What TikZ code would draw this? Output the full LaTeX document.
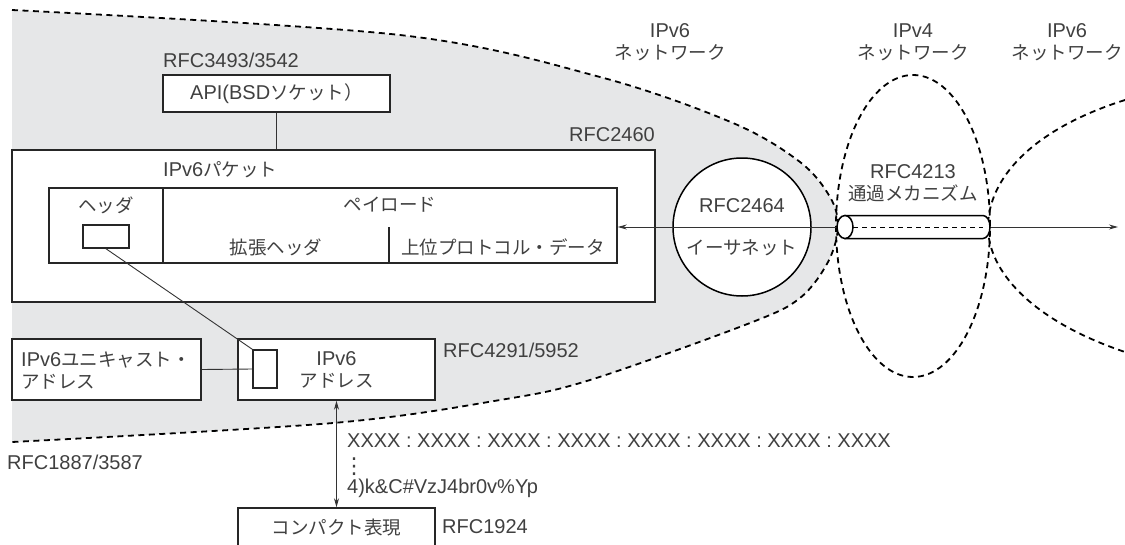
\documentclass[tikz,border=0pt]{standalone}
\usepackage{fontspec}
\setmainfont{Liberation Sans}
\newfontfamily\jpfont{Noto Sans CJK JP}
\newfontfamily\dejavu{DejaVu Sans}
\newcommand{\jtext}[1]{{\jpfont\fontsize{18.5}{22}\selectfont #1}}
\usetikzlibrary{arrows.meta}
\definecolor{graybg}{HTML}{E6E7E8}
\definecolor{txt}{HTML}{404040}
\tikzset{
  box/.style={draw=black!85, line width=1.5pt, fill=white, inner sep=0pt},
  lbl/.style={text=txt, font=\fontsize{20}{22}\selectfont, inner sep=0pt},
  netline/.style={line width=1.8pt, dash pattern=on 6pt off 4.5pt},
  conn/.style={draw=black!80, line width=0.9pt},
  tip/.style={-{Stealth[length=9pt,width=5pt]}},
}
\begin{document}
\begin{tikzpicture}[x=1pt,y=-1pt]
\useasboundingbox (0,0) rectangle (1125,544);
% gray IPv6 network region
\fill[graybg] plot[smooth,tension=0.55] coordinates {(12,10) (400,35) (600,77) (733,123) (800,162) (830,197) (838,227) (828,262) (800,298) (750,323) (590,380) (500,400) (333,423) (12,442)} -- cycle;
\draw[netline] plot[smooth,tension=0.55] coordinates {(12,10) (400,35) (600,77) (733,123) (800,162) (830,197) (838,227) (828,262) (800,298) (750,323) (590,380) (500,400) (333,423) (12,442)};
% IPv4 network
\draw[netline] (913,226) ellipse [x radius=77pt, y radius=151pt];
% right IPv6 network
\draw[netline] (1125,100) .. controls (1030,130) and (988,180) .. (988,227) .. controls (988,270) and (1030,320) .. (1125,352);
% network labels
\node[lbl, align=center] (n6a) at (670,42) {IPv6\\\jtext{ネットワーク}};
\node[lbl, align=center] (n4) at (913,42) {IPv4\\\jtext{ネットワーク}};
\node[lbl, align=center] (n6b) at (1067,42) {IPv6\\\jtext{ネットワーク}};
% API
\node[lbl, anchor=west] (rfcapi) at (163,60) {RFC3493/3542};
\node[box, minimum width=227, minimum height=37, lbl, text=txt] (api) at (276.5,93.5) {API(BSD\jtext{ソケット）}};
% packet
\node[box, minimum width=643, minimum height=152] (packet) at (333.5,226) {};
\draw[conn] (api.south) -- (packet.north -| api.south);
\node[lbl, anchor=east] (rfc2460) at (655,135) {RFC2460};
\node[lbl, anchor=west] (pkttitle) at (163,170) {IPv6\jtext{パケット}};
\node[box, minimum width=568, minimum height=75] (inner) at (333,225.5) {};
\coordinate (d1t) at (163,188);
\coordinate (d1b) at (163,263);
\draw[box] (d1t) -- (d1b);
\coordinate (d2t) at (389,227);
\coordinate (d2b) at (389,263);
\draw[box] (d2t) -- (d2b);
\node[lbl] (hdr) at (106,205) {\jtext{ヘッダ}};
\node[box, minimum width=46, minimum height=23] (hrect) at (106,236.5) {};
\node[lbl] (payload) at (390,205) {\jtext{ペイロード}};
\node[lbl] (ext) at (276,247) {\jtext{拡張ヘッダ}};
\node[lbl] (upper) at (503,247) {\jtext{上位プロトコル・データ}};
% addresses
\node[box, minimum width=189, minimum height=61] (uni) at (106.5,369.5) {};
\node[lbl, anchor=west, align=left] (unitxt) at (21,371) {IPv6\jtext{ユニキャスト・}\\\jtext{アドレス}};
\node[box, minimum width=197, minimum height=61, align=center, lbl, text=txt] (addr) at (336.5,369.5) {IPv6\\\jtext{アドレス}};
\node[box, minimum width=24, minimum height=38] (arect) at (265,369) {};
\draw[conn] (hrect.south) -- (arect.north west);
\draw[conn] (uni.east) -- (arect.west);
\node[lbl, anchor=west] (rfc4291) at (443,350) {RFC4291/5952};
\node[lbl, anchor=west] (rfc1887) at (7,462) {RFC1887/3587};
% compact
\node[box, minimum width=197, minimum height=40, lbl, text=txt] (compact) at (336.5,528) {\jtext{コンパクト表現}};
\draw[conn, {Stealth[length=9pt,width=5pt]}-{Stealth[length=9pt,width=5pt]}] (addr.south) -- (compact.north);
\node[lbl, anchor=west] (xx) at (347,441) {XXXX : XXXX : XXXX : XXXX : XXXX : XXXX : XXXX : XXXX};
\node[lbl, anchor=west] (vdots) at (343,467) {\dejavu\fontsize{22}{24}\selectfont ⋮};
\node[lbl, anchor=west] (b85) at (347,488) {4)k\&C\#VzJ4br0v\%Yp};
\node[lbl, anchor=west] (rfc1924) at (442,527) {RFC1924};
% ethernet
\node[circle, draw=black, line width=1.5pt, fill=white, minimum size=138, inner sep=0pt] (eth) at (742,227) {};
\node[lbl] (eth1) at (742,206) {RFC2464};
\node[lbl] (eth2) at (742,248) {\jtext{イーサネット}};
% tube
\coordinate (tubeL) at (837,227);
\coordinate (tubeR) at (990,227);
\coordinate (arrowR) at (1118,227);
\draw[conn, tip] (tubeL) -- (tubeL -| inner.east);
\draw[conn, tip] (tubeR) -- (arrowR);
\draw[line width=1.5pt, fill=white] (845,215.5) -- (983,215.5) arc[start angle=90, end angle=-90, x radius=7pt, y radius=11.5pt] -- (845,238.5) -- cycle;
\draw[line width=0.9pt, dash pattern=on 5pt off 4pt] (853,227) -- (983,227);
\draw[line width=1.5pt, fill=white] (845,227) ellipse [x radius=8pt, y radius=11.5pt];
\node[lbl, align=center] (tunnel) at (913,183) {RFC4213\\\jtext{通過メカニズム}};
\end{tikzpicture}
\end{document}
